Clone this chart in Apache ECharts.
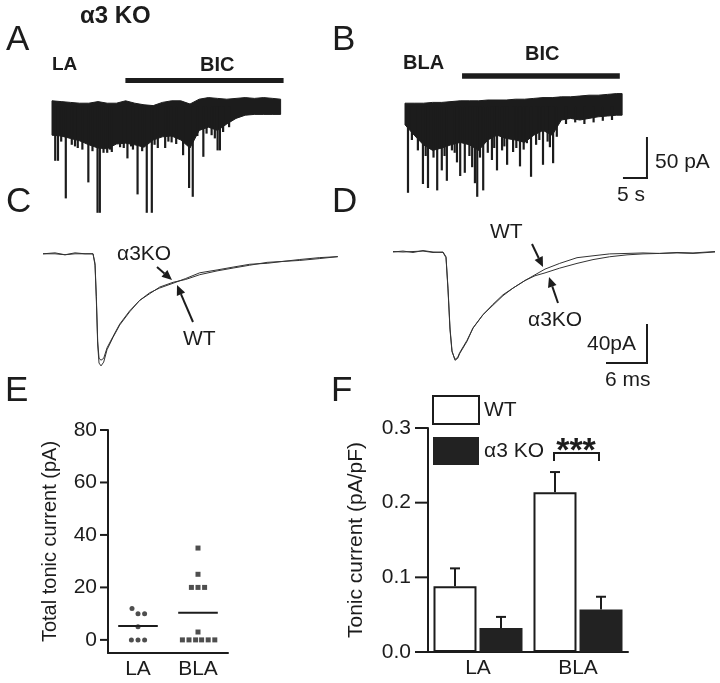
<!DOCTYPE html>
<html>
<head>
<meta charset="utf-8">
<script src="https://cdn.jsdelivr.net/npm/echarts@6.0.0/dist/echarts.min.js"></script>
<style>
html, body { margin: 0; padding: 0; background: #fff; }
#chart { width: 720px; height: 683px; }
</style>
</head>
<body>
<div id="chart"></div>
<script>
// ---- A: LA recording (time in s, current in pA) ----
var timeA = [0, 2, 4, 6, 8, 10, 12, 14, 16, 18, 20, 22, 24, 26, 28, 30, 32, 34, 36, 38, 40, 42, 44, 46, 48, 49.7];
var topA = [-1, -2, -3, -4, -4, -2, -4, -4, -1, -4, -6, -7, -3, -1, -1, -5, 1, 3, 2, 1, 2, 3, 2, 3, 2, 1];
var bottomA = [-44, -45, -48, -51, -56, -60, -61, -55, -54, -56, -59, -50, -46, -45, -50, -60, -38, -34, -38, -30, -23, -19, -18, -18, -18, -18];
var spikesA = [[0.7, -76], [1.3, -76], [2.0, -52], [3.0, -123], [4.3, -56], [5.0, -58], [5.6, -60], [6.6, -62],
    [7.9, -103], [8.8, -64], [9.9, -141], [10.4, -141], [11.2, -66], [12.0, -66], [12.6, -62], [13.0, -65],
    [14.8, -59], [15.6, -60], [16.4, -73], [17.2, -58], [17.6, -62], [18.6, -118], [19.6, -64], [20.6, -141],
    [21.7, -141], [22.3, -56], [23.0, -60], [24.6, -60], [25.3, -52], [26.0, -53], [27.0, -55], [28.5, -69],
    [29.8, -110], [30.6, -121], [31.6, -45], [32.9, -71], [33.6, -42], [34.7, -44], [35.4, -48], [36.0, -63],
    [36.5, -63], [37.2, -40], [38.5, -34]];
var bicA = [16.5, 49.8];

// ---- B: BLA recording ----
var timeB = [0, 2, 4, 6, 8, 10, 12, 14, 16, 18, 20, 22, 24, 26, 28, 30, 32, 34, 36, 38, 40, 42, 44, 46, 47.2];
var topB = [-4, -4, -4, -3, -3, -2, -1, -1, -1, 0, 0, 0, 1, 1, 2, 3, 3, 4, 4, 5, 6, 6, 7, 8, 8];
var bottomB = [-31, -44, -56, -63, -60, -56, -53, -56, -63, -50, -44, -48, -50, -53, -44, -38, -44, -25, -23, -25, -23, -21, -20, -19, -19];
var spikesB = [[0.65, -116], [1.5, -50], [2.8, -63], [3.9, -105], [4.5, -70], [5.0, -110], [6.2, -72], [7.0, -113],
    [8.0, -88], [8.6, -70], [9.1, -101], [10.2, -63], [10.8, -66], [11.3, -78], [12.0, -95], [13.0, -91],
    [14.0, -70], [14.6, -84], [15.2, -104], [15.7, -121], [16.3, -72], [17.0, -113], [18.0, -66], [18.9, -75],
    [19.4, -60], [20.0, -88], [21.1, -63], [21.6, -58], [22.2, -81], [23.5, -65], [24.2, -60], [25.0, -83],
    [25.8, -62], [26.5, -54], [27.4, -96], [28.5, -56], [29.2, -50], [30.0, -81], [31.0, -52], [31.5, -59],
    [32.2, -79], [33.0, -46], [35.0, -30], [37.0, -28], [39.0, -30], [41.0, -28], [43.0, -26], [45.0, -25]];
var bicB = [13.0, 46.1];

// ---- C: LA averaged IPSCs (time in ms, current in pA) ----
var timeC = [0, 1.8, 3.3, 4.8, 6.3, 7.5, 7.8, 8.0, 8.2, 8.4, 8.7, 9.1, 9.6, 10.5, 11.5, 13.0, 14.5, 16.0, 17.5, 19.5,
    21.4, 23.5, 26.1, 28.5, 31.0, 33.6, 36.0, 38.5, 41.5, 44.2];
var wtC = [0, 1, -1, 0, 0, 0, -12, -49, -96, -115, -118, -114, -101, -88, -75, -61, -49, -41, -36, -31,
    -26, -20, -17, -14, -11, -10, -8, -6, -4, -3];
var koC = [0, 0, -1, 1, 0, 0, -10, -45, -92, -110, -112, -110, -99, -87, -74, -60, -49, -42, -35, -30,
    -27, -22, -18, -15, -12, -9, -8, -7, -5, -3];

// ---- D: BLA averaged IPSCs ----
var timeD = [0, 1.5, 3.0, 4.5, 6.0, 7.5, 7.95, 8.25, 8.55, 8.85, 9.3, 9.7, 10.0, 11.1, 12.0, 13.5, 15.0, 16.5, 18.0,
    19.8, 21.3, 22.8, 25.0, 27.6, 30.0, 32.5, 35.1, 37.5, 40.0, 42.6, 45.0, 48.3];
var wtD = [0, 1, -0.5, 1.5, 0, -0.5, -6, -40, -82, -105, -113, -111, -106, -93, -80, -66, -55, -45, -38,
    -30, -24, -18, -12, -6, -4, -2, -1.5, -1, -1.5, -0.5, -1, 0.5];
var koD = [0.5, 0, 0.5, 1, -0.5, 0, -5, -38, -80, -104, -114, -112, -107, -94, -80, -66, -56, -46, -38,
    -30, -25, -22, -17, -12, -8, -5, -3, -2, -1.5, -1, -1.5, 0];

// ---- E: total tonic current (pA) per cell ----
var eGroups = ['LA', 'BLA'];
var laValues = [12, 10, 10, 5, 0, 0, 0];
var laJitter = [-0.1, 0, 0.11, 0, -0.11, 0, 0.11];
var blaValues = [35, 25, 20, 20, 20, 3, 0, 0, 0, 0, 0, 0];
var blaJitter = [0, 0, -0.11, 0, 0.11, 0, -0.26, -0.15, -0.04, 0.06, 0.17, 0.28];
var eMeans = [5.3, 10.3];
var eTicks = [0, 20, 40, 60, 80];

// ---- F: tonic current density (pA/pF) ----
var fGroups = ['LA', 'BLA'];
var wtMean = [0.088, 0.214];
var wtSem = [0.024, 0.027];
var koMean = [0.032, 0.057];
var koSem = [0.015, 0.017];
var fTicks = [0, 0.1, 0.2, 0.3];

var FONT = '"Liberation Sans", Arial, sans-serif';
var INK = '#1c1c1c';

function bandSeries(idx, times, top, bottom) {
    return {
        type: 'custom', xAxisIndex: idx, yAxisIndex: idx, silent: true, clip: false,
        data: times.map(function (t, i) { return [t, top[i], bottom[i]]; }),
        encode: { x: 0, y: [1, 2] },
        renderItem: function (params, api) {
            if (params.dataIndexInside !== 0) return null;
            var up = [], dn = [];
            for (var i = 0; i < params.dataInsideLength; i++) {
                up.push(api.coord([api.value(0, i), api.value(1, i)]));
                dn.push(api.coord([api.value(0, i), api.value(2, i)]));
            }
            return { type: 'polygon', shape: { points: up.concat(dn.reverse()) },
                style: { fill: INK, stroke: INK, lineWidth: 1 } };
        }
    };
}

function spikeSeries(idx, spikes) {
    return {
        type: 'custom', xAxisIndex: idx, yAxisIndex: idx, silent: true, clip: false,
        data: spikes, encode: { x: 0, y: 1 },
        renderItem: function (params, api) {
            var a = api.coord([api.value(0), -8]);
            var b = api.coord([api.value(0), api.value(1)]);
            return { type: 'line', shape: { x1: a[0], y1: a[1], x2: b[0], y2: b[1] },
                style: { stroke: INK, lineWidth: 2.2 } };
        }
    };
}

function segSeries(idx, segs, width) {
    return {
        type: 'custom', xAxisIndex: idx, yAxisIndex: idx, silent: true, clip: false,
        data: segs, encode: { x: [0, 2], y: [1, 3] },
        renderItem: function (params, api) {
            var a = api.coord([api.value(0), api.value(1)]);
            var b = api.coord([api.value(2), api.value(3)]);
            return { type: 'line', shape: { x1: a[0], y1: a[1], x2: b[0], y2: b[1] },
                style: { stroke: INK, lineWidth: width, lineCap: 'square' } };
        }
    };
}

function traceSeries(idx, times, vals) {
    return {
        type: 'line', xAxisIndex: idx, yAxisIndex: idx, silent: true, symbol: 'none',
        data: times.map(function (t, i) { return [t, vals[i]]; }),
        lineStyle: { color: '#333', width: 1 }
    };
}

function errSeries(means, sems, offset) {
    return {
        type: 'custom', xAxisIndex: 5, yAxisIndex: 5, silent: true, z: 3,
        data: means.map(function (m, i) { return [i, m, sems[i]]; }),
        encode: { x: 0, y: 1 },
        renderItem: function (params, api) {
            var base = api.coord([api.value(0), api.value(1)]);
            var top = api.coord([api.value(0), api.value(1) + api.value(2)]);
            var x = base[0] + offset;
            return { type: 'group', children: [
                { type: 'line', shape: { x1: x, y1: base[1], x2: x, y2: top[1] }, style: { stroke: INK, lineWidth: 2 } },
                { type: 'line', shape: { x1: x - 5, y1: top[1], x2: x + 5, y2: top[1] }, style: { stroke: INK, lineWidth: 2 } }
            ] };
        }
    };
}

function txt(x, y, s, size, bold, align) {
    return { type: 'text', x: x, y: y, silent: true,
        style: { text: s, fill: INK, font: (bold ? 'bold ' : '') + size + 'px ' + FONT,
            textAlign: align || 'left', textVerticalAlign: 'middle' } };
}

function arrow(x1, y1, x2, y2) {
    var ang = Math.atan2(y2 - y1, x2 - x1), L = 10, W = 4.5;
    var bx = x2 - L * Math.cos(ang), by = y2 - L * Math.sin(ang);
    var s = Math.sin(ang), c = Math.cos(ang);
    return [
        { type: 'line', silent: true, shape: { x1: x1, y1: y1, x2: bx, y2: by }, style: { stroke: INK, lineWidth: 2 } },
        { type: 'polygon', silent: true, shape: { points: [[x2, y2], [bx + W * s, by - W * c], [bx - W * s, by + W * c]] },
            style: { fill: INK } }
    ];
}

function hiddenAxis(idx, min, max) {
    return { type: 'value', gridIndex: idx, min: min, max: max, show: false };
}

function visibleLine(onZero) {
    return { show: true, onZero: onZero, lineStyle: { color: INK, width: 2 } };
}

var chart = echarts.init(document.getElementById('chart'));

var graphics = [
    txt(80, 16.5, 'α3 KO', 24, true),
    txt(6, 40.5, 'A', 35), txt(332, 40.5, 'B', 35),
    txt(6, 202, 'C', 35), txt(332, 202, 'D', 35),
    txt(5, 391, 'E', 35), txt(331, 391, 'F', 35),
    txt(52, 65, 'LA', 19, true), txt(200, 65, 'BIC', 20, true),
    txt(403, 63.5, 'BLA', 20, true), txt(525, 54.5, 'BIC', 20, true),
    txt(655, 162.5, '50 pA', 21), txt(617, 195.5, '5 s', 21),
    txt(117, 254.5, 'α3KO', 21), txt(183, 339, 'WT', 21),
    txt(490, 232, 'WT', 21), txt(528, 320.5, 'α3KO', 21),
    txt(587, 344, '40pA', 21), txt(605, 380, '6 ms', 21),
    txt(576, 452, '***', 34, true, 'center'),
    { type: 'polyline', silent: true, shape: { points: [[554, 461], [554, 453], [599, 453], [599, 461]] },
        style: { stroke: INK, lineWidth: 2, fill: null } }
].concat(arrow(157, 267, 172, 280), arrow(193, 322, 177, 285),
    arrow(532, 244, 543, 267), arrow(558, 303, 549, 277));

var option = {
    animation: false,
    backgroundColor: '#fff',
    grid: [
        { left: 52, top: 72, width: 230, height: 144 },
        { left: 405, top: 72, width: 253, height: 144 },
        { left: 43, top: 244.3, width: 306.8, height: 142.5 },
        { left: 393, top: 242.5, width: 322, height: 142.5 },
        { left: 108, top: 430, width: 120, height: 223 },
        { left: 428, top: 428, width: 200, height: 224 }
    ],
    xAxis: [
        hiddenAxis(0, 0, 50), hiddenAxis(1, 0, 55), hiddenAxis(2, 0, 46), hiddenAxis(3, 0, 48.3),
        {
            type: 'value', gridIndex: 4, min: 0.5, max: 2.5,
            axisLine: visibleLine(false), axisTick: { show: false }, splitLine: { show: false },
            axisLabel: { customValues: [1, 2], margin: 6, color: INK, fontSize: 21, fontFamily: FONT,
                formatter: function (v) { return eGroups[Math.round(v) - 1]; } }
        },
        {
            type: 'category', gridIndex: 5, data: fGroups,
            axisLine: visibleLine(false), axisTick: { show: false }, splitLine: { show: false },
            axisLabel: { margin: 6, color: INK, fontSize: 21, fontFamily: FONT }
        }
    ],
    yAxis: [
        hiddenAxis(0, -145, 35), hiddenAxis(1, -145, 35), hiddenAxis(2, -140, 10), hiddenAxis(3, -140, 10),
        {
            type: 'value', gridIndex: 4, min: -5, max: 80,
            name: 'Total tonic current (pA)', nameLocation: 'middle', nameGap: 48,
            nameTextStyle: { color: INK, fontSize: 20, fontFamily: FONT },
            axisLine: visibleLine(false), splitLine: { show: false }, axisTick: { show: false },
            axisLabel: { customValues: eTicks, margin: 11, color: INK, fontSize: 21, fontFamily: FONT }
        },
        {
            type: 'value', gridIndex: 5, min: 0, max: 0.3, interval: 0.1,
            name: 'Tonic current (pA/pF)', nameLocation: 'middle', nameGap: 61,
            nameTextStyle: { color: INK, fontSize: 21, fontFamily: FONT },
            axisLine: visibleLine(false), splitLine: { show: false }, axisTick: { show: false },
            axisLabel: { margin: 17, color: INK, fontSize: 21, fontFamily: FONT,
                formatter: function (v) { return v.toFixed(1); } }
        }
    ],
    legend: {
        orient: 'vertical', left: 432, top: 395, padding: 0, itemGap: 12,
        itemWidth: 46, itemHeight: 28, icon: 'rect', selectedMode: false,
        textStyle: { color: INK, fontSize: 21, fontFamily: FONT },
        data: [
            { name: 'WT', itemStyle: { color: '#fff', borderColor: INK, borderWidth: 2 } },
            { name: 'α3 KO', itemStyle: { color: '#222' } }
        ]
    },
    series: [
        bandSeries(0, timeA, topA, bottomA),
        spikeSeries(0, spikesA),
        segSeries(0, [[bicA[0], 24.4, bicA[1], 24.4]], 5),
        bandSeries(1, timeB, topB, bottomB),
        spikeSeries(1, spikesB),
        segSeries(1, [[bicB[0], 30, bicB[1], 30]], 5.5),
        // scale bar: 5 s, 50 pA
        segSeries(1, [[47.6, -97.5, 52.6, -97.5], [52.6, -97.5, 52.6, -47.5]], 2),
        traceSeries(2, timeC, wtC),
        traceSeries(2, timeC, koC),
        traceSeries(3, timeD, wtD),
        traceSeries(3, timeD, koD),
        // scale bar: 6 ms, 40 pA
        segSeries(3, [[32.1, -116.8, 38.1, -116.8], [38.1, -116.8, 38.1, -76.8]], 2),
        {
            type: 'scatter', xAxisIndex: 4, yAxisIndex: 4, symbol: 'circle', symbolSize: 5, silent: true,
            itemStyle: { color: '#222' },
            data: laValues.map(function (v, i) { return [1 + laJitter[i], v]; })
        },
        {
            type: 'scatter', xAxisIndex: 4, yAxisIndex: 4, symbol: 'rect', symbolSize: 5, silent: true,
            itemStyle: { color: '#222' },
            data: blaValues.map(function (v, i) { return [2 + blaJitter[i], v]; })
        },
        {
            type: 'custom', xAxisIndex: 4, yAxisIndex: 4, silent: true,
            data: eMeans.map(function (m, i) { return [i + 1, m]; }),
            encode: { x: 0, y: 1 },
            renderItem: function (params, api) {
                var a = api.coord([api.value(0) - 0.33, api.value(1)]);
                var b = api.coord([api.value(0) + 0.33, api.value(1)]);
                return { type: 'line', shape: { x1: a[0], y1: a[1], x2: b[0], y2: b[1] },
                    style: { stroke: INK, lineWidth: 2 } };
            }
        },
        {
            name: 'WT', type: 'bar', xAxisIndex: 5, yAxisIndex: 5, data: wtMean,
            barWidth: 43, barGap: '7%', silent: true,
            itemStyle: { color: '#fff', borderColor: INK, borderWidth: 2 }
        },
        {
            name: 'α3 KO', type: 'bar', xAxisIndex: 5, yAxisIndex: 5, data: koMean,
            barWidth: 43, barGap: '7%', silent: true,
            itemStyle: { color: '#222' }
        },
        errSeries(wtMean, wtSem, -23),
        errSeries(koMean, koSem, 23)
    ],
    graphic: graphics
};

chart.setOption(option);

// outward y-axis ticks, placed through the axes' own scales
try {
    var tickMarks = [];
    [[4, eTicks, 8], [5, fTicks, 13]].forEach(function (cfg) {
        var rect = chart.getModel().getComponent('grid', cfg[0]).coordinateSystem.getRect();
        cfg[1].forEach(function (v) {
            var y = chart.convertToPixel({ yAxisIndex: cfg[0] }, v);
            tickMarks.push({ type: 'line', silent: true, z: 100,
                shape: { x1: rect.x - cfg[2], y1: y, x2: rect.x, y2: y },
                style: { stroke: INK, lineWidth: 2 } });
        });
    });
    chart.setOption({ graphic: graphics.concat(tickMarks) });
} catch (e) { }
</script>
</body>
</html>
